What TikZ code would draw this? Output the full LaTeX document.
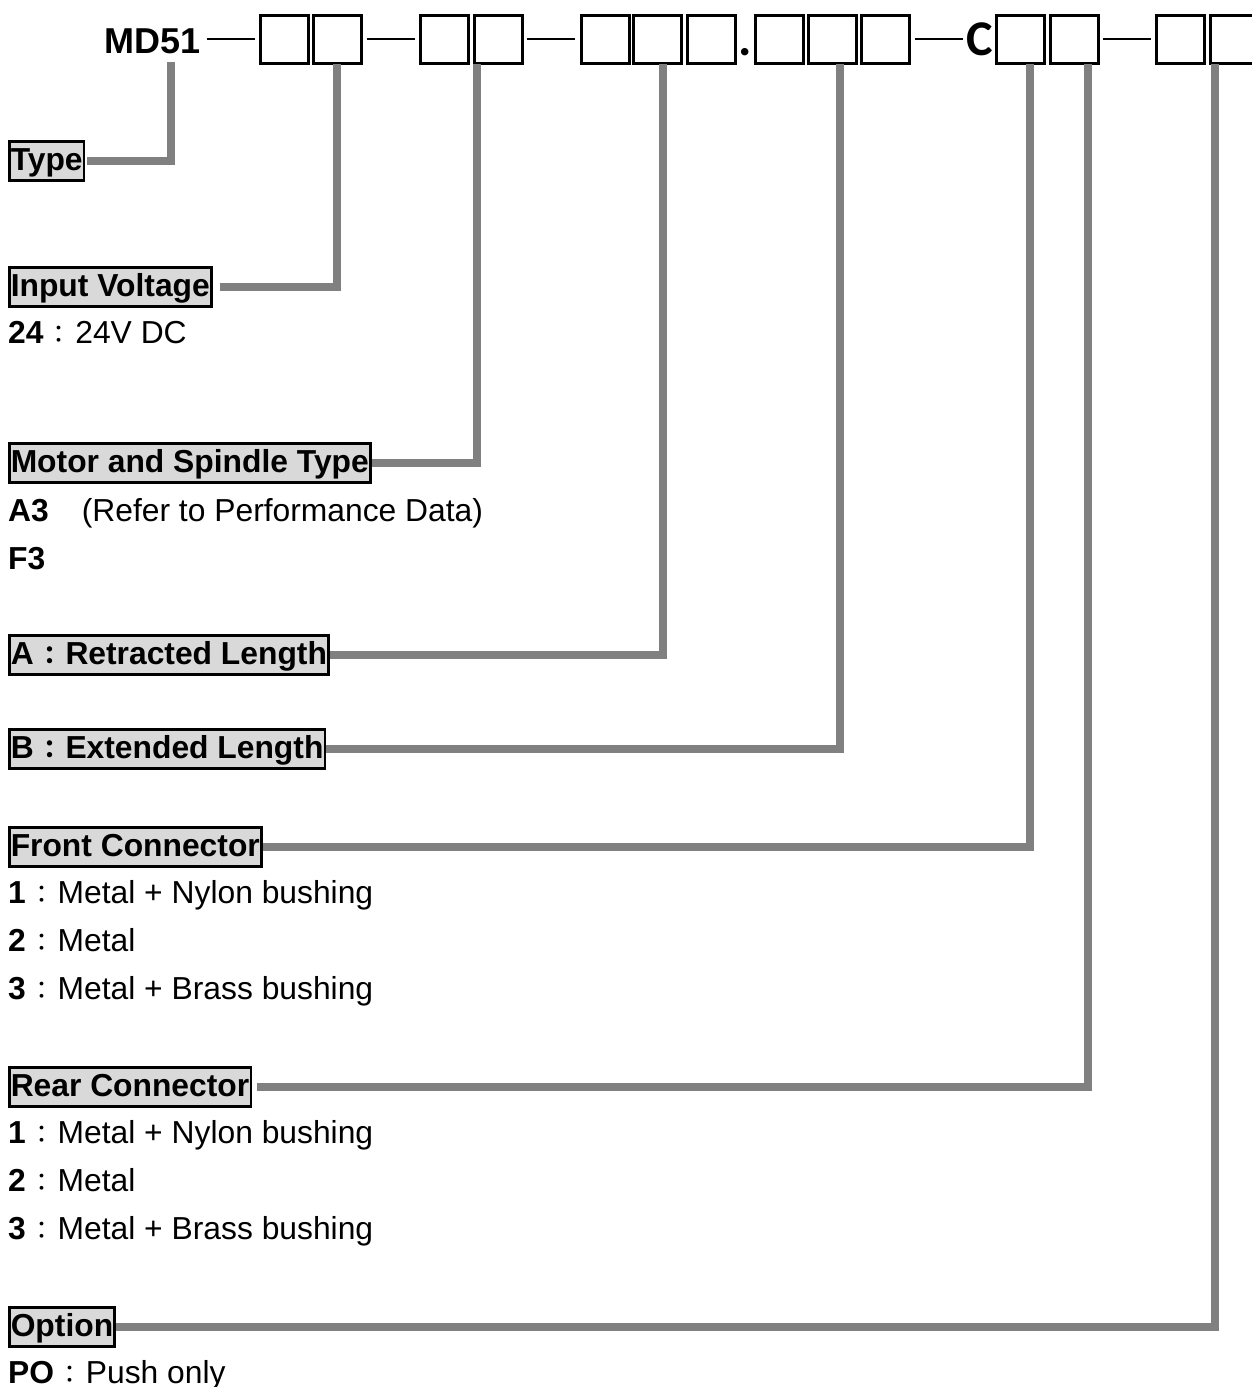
\documentclass[tikz,border=0pt]{standalone}
\usepackage{fontspec}
\setmainfont{Liberation Sans}
\newfontfamily\cjk{Noto Sans CJK JP}
\newfontfamily\carl{Carlito}
\newcommand{\fwc}{\makebox[1em][c]{\cjk\fontsize{25}{28}\selectfont ：}}
\definecolor{labelgray}{RGB}{217,217,217}
\definecolor{conngray}{RGB}{128,128,128}
\begin{document}
\begin{tikzpicture}[x=1pt,y=-1pt,
  lbl/.style={draw=black,line width=2.5pt,fill=labelgray,font=\fontsize{31.8}{36}\selectfont\bfseries,inner xsep=1.5pt,inner ysep=1pt,text height=28pt,text depth=9pt,anchor=north west},
  body/.style={font=\fontsize{31.8}{36}\selectfont,inner sep=0pt,anchor=base west},
  conn/.style={draw=conngray,line width=8pt,line join=miter},
  slot/.style={draw=black,line width=3pt},
  dashln/.style={draw=black,line width=2.5pt}]
\useasboundingbox (0,0) rectangle (1252,1387);
% top code
\node[font=\fontsize{36}{40}\selectfont\bfseries,inner sep=0pt,anchor=base west] (md) at (104,53) {MD51};
\foreach \a/\b in {207/255,367/415,527/575,915/963,1103/1151}{
  \draw[dashln] (\a,39) -- (\b,39);}
\foreach \xx in {260,313,420,474,581,633,687,755,808,861,996,1050,1156,1210}{
  \draw[slot] (\xx,15) rectangle ++(48,48);}
\node[font=\carl\fontsize{50}{56}\selectfont\bfseries,inner sep=0pt,anchor=base] (dot) at (745,55) {.};
\node[font=\carl\fontsize{50}{56}\selectfont\bfseries,inner sep=0pt,anchor=base] (cc) at (980,55) {C};
% stub tops
\coordinate (t1) at (171,62);
\coordinate (t2) at (337,64);
\coordinate (t3) at (477,64);
\coordinate (t4) at (663,64);
\coordinate (t5) at (840,64);
\coordinate (t6) at (1030,64);
\coordinate (t7) at (1088,64);
\coordinate (t8) at (1215,64);
% labels
\node[lbl] (type) at (8,140) {Type};
\node[lbl] (iv) at (8,266) {Input Voltage};
\node[lbl] (mst) at (8,442) {Motor and Spindle Type};
\node[lbl] (ra) at (8,634) {A\fwc Retracted Length};
\node[lbl] (eb) at (8,728) {B\fwc Extended Length};
\node[lbl] (fc) at (8,826) {Front Connector};
\node[lbl] (rc) at (8,1066) {Rear Connector};
\node[lbl] (op) at (8,1306) {Option};
% connectors
\draw[conn] (t1) |- ([xshift=2pt]type.east);
\draw[conn] (t2) |- ([xshift=7pt]iv.east);
\draw[conn] (t3) |- (mst.east);
\draw[conn] (t4) |- (ra.east);
\draw[conn] (t5) |- (eb.east);
\draw[conn] (t6) |- (fc.east);
\draw[conn] (t7) |- ([xshift=5pt]rc.east);
\draw[conn] (t8) |- (op.east);
% body text
\node[body] (v24) at (8,343) {\textbf{24}\fwc 24V DC};
\node[body] (a3) at (8,521) {\textbf{A3}\hspace{33pt}(Refer to Performance Data)};
\node[body] (f3) at (8,569) {\textbf{F3}};
\node[body] (f1) at (8,903) {\textbf{1}\fwc Metal + Nylon bushing};
\node[body] (f2) at (8,951) {\textbf{2}\fwc Metal};
\node[body] (f3b) at (8,999) {\textbf{3}\fwc Metal + Brass bushing};
\node[body] (r1) at (8,1143) {\textbf{1}\fwc Metal + Nylon bushing};
\node[body] (r2) at (8,1191) {\textbf{2}\fwc Metal};
\node[body] (r3) at (8,1239) {\textbf{3}\fwc Metal + Brass bushing};
\node[body] (po) at (8,1383) {\textbf{PO}\fwc Push only};
\end{tikzpicture}
\end{document}
